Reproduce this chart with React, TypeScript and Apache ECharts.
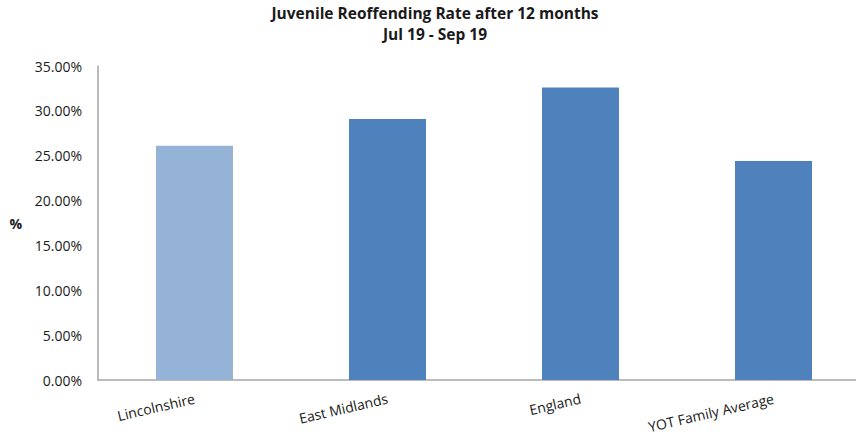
import React, { useEffect, useRef } from "react";
import * as echarts from "echarts";

const categories = ["Lincolnshire", "East Midlands", "England", "YOT Family Average"];
const rates = [26.1, 29.1, 32.6, 24.4];
const barColors = ["#95B3D7", "#4F81BD", "#4F81BD", "#4F81BD"];
const titleLines = ["Juvenile Reoffending Rate after 12 months", "Jul 19 - Sep 19"];

export default function App() {
  const ref = useRef<HTMLDivElement>(null);

  useEffect(() => {
    if (!ref.current) return;
    const chart = echarts.init(ref.current, null, { renderer: "svg" });
    const font = "'Open Sans', 'Noto Sans', sans-serif";
    chart.setOption({
      animation: false,
      backgroundColor: "#ffffff",
      textStyle: { fontFamily: font },
      title: {
        text: titleLines.join("\n"),
        left: 435,
        top: 2,
        padding: 0,
        textAlign: "center",
        textStyle: {
          fontFamily: font,
          fontSize: 15.5,
          fontWeight: "bold",
          color: "#1a1a1a",
          lineHeight: 21,
        },
      },
      // plot runs slightly past the right edge of the canvas
      grid: {
        left: 98,
        width: 772,
        top: 66,
        bottom: 65,
        containLabel: false,
        outerBoundsMode: "none",
      },
      xAxis: {
        type: "category",
        data: categories,
        axisLine: { lineStyle: { color: "#a6a6a6", width: 1.5 } },
        axisTick: { show: false },
        axisLabel: {
          rotate: 13,
          margin: 18,
          fontSize: 14,
          color: "#1a1a1a",
          fontFamily: font,
        },
      },
      yAxis: {
        type: "value",
        min: 0,
        max: 35,
        interval: 5,
        name: "%",
        nameLocation: "middle",
        nameRotate: 0,
        nameGap: 76,
        nameTextStyle: { fontSize: 14, fontWeight: "bold", color: "#1a1a1a", fontFamily: font },
        axisLine: { show: true, lineStyle: { color: "#a6a6a6", width: 1.5 } },
        axisTick: { show: false },
        splitLine: { show: false },
        axisLabel: {
          margin: 16,
          fontSize: 14,
          color: "#1a1a1a",
          fontFamily: font,
          formatter: (v: number) => v.toFixed(2) + "%",
        },
      },
      series: [
        {
          type: "bar",
          barWidth: 77,
          data: rates.map((v, i) => ({ value: v, itemStyle: { color: barColors[i] } })),
        },
      ],
    });
    return () => chart.dispose();
  }, []);

  return <div ref={ref} style={{ width: 856, height: 445, position: "absolute", left: 0, top: 0 }} />;
}
